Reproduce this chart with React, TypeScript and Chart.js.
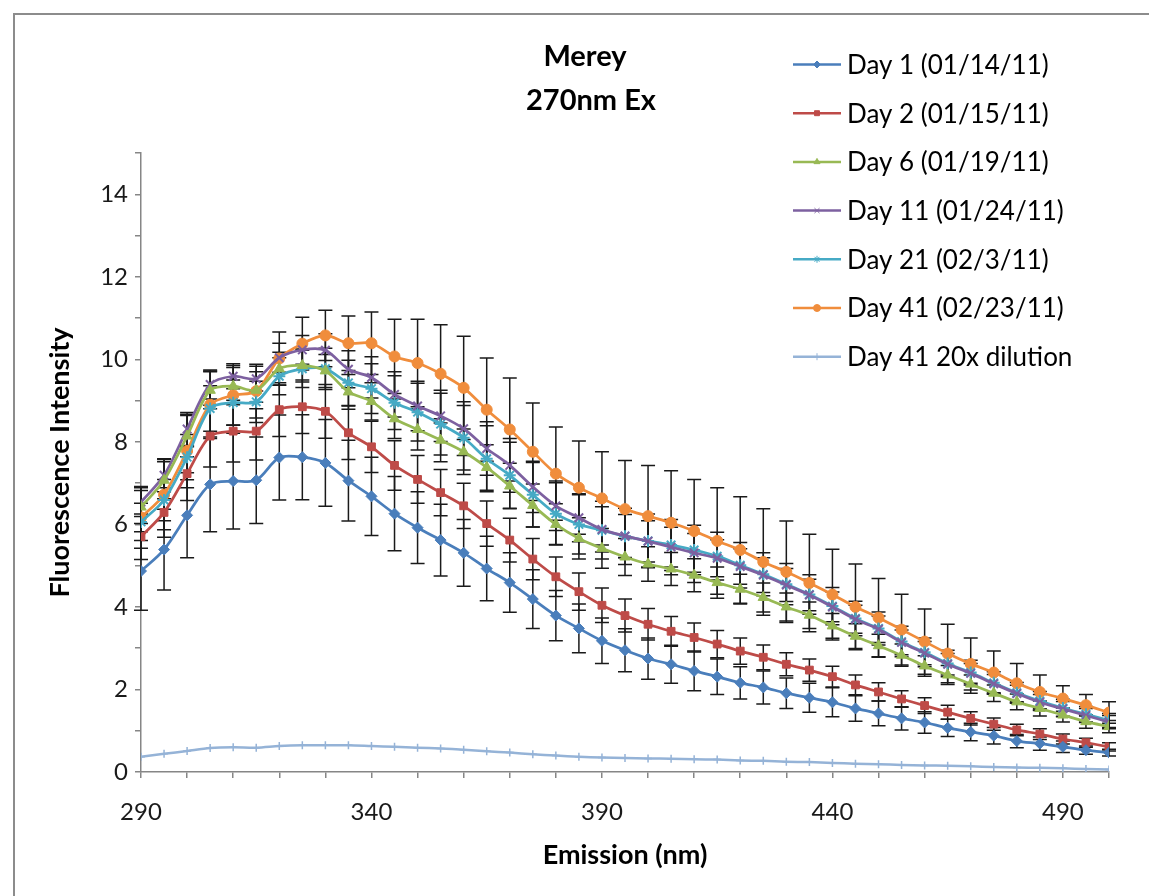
import React, { useEffect, useRef } from 'react';
import { Chart, registerables } from 'chart.js';
import { drawPoint } from 'chart.js/helpers';

Chart.register(...registerables);

const FONT = 'Lato';

const titleLines = ['Merey', '270nm Ex'];
const xTitle = 'Emission (nm)';
const yTitle = 'Fluorescence Intensity';

const wavelengths = [290, 295, 300, 305, 310, 315, 320, 325, 330, 335, 340, 345, 350, 355, 360, 365, 370, 375, 380, 385, 390, 395, 400, 405, 410, 415, 420, 425, 430, 435, 440, 445, 450, 455, 460, 465, 470, 475, 480, 485, 490, 495, 500];

const seriesLabels = ['Day 1 (01/14/11)', 'Day 2 (01/15/11)', 'Day 6 (01/19/11)', 'Day 11 (01/24/11)', 'Day 21 (02/3/11)', 'Day 41 (02/23/11)', 'Day 41 20x dilution'];

const day1 = [4.87, 5.39, 6.22, 6.97, 7.05, 7.07, 7.62, 7.63, 7.49, 7.06, 6.68, 6.26, 5.92, 5.62, 5.31, 4.93, 4.59, 4.19, 3.79, 3.48, 3.18, 2.95, 2.75, 2.61, 2.45, 2.31, 2.16, 2.05, 1.91, 1.80, 1.69, 1.54, 1.42, 1.30, 1.20, 1.07, 0.97, 0.88, 0.75, 0.69, 0.61, 0.53, 0.47];
const day2 = [5.70, 6.29, 7.23, 8.14, 8.26, 8.26, 8.78, 8.85, 8.74, 8.22, 7.88, 7.43, 7.09, 6.77, 6.45, 6.02, 5.62, 5.16, 4.73, 4.37, 4.04, 3.79, 3.58, 3.41, 3.26, 3.10, 2.93, 2.78, 2.61, 2.47, 2.31, 2.11, 1.94, 1.77, 1.61, 1.45, 1.30, 1.16, 1.02, 0.92, 0.80, 0.71, 0.61];
const day6 = [6.42, 7.07, 8.14, 9.25, 9.35, 9.25, 9.77, 9.85, 9.72, 9.21, 8.98, 8.56, 8.30, 8.04, 7.76, 7.38, 6.93, 6.46, 6.00, 5.66, 5.42, 5.21, 5.04, 4.92, 4.77, 4.59, 4.43, 4.23, 4.00, 3.80, 3.54, 3.29, 3.06, 2.83, 2.57, 2.35, 2.13, 1.91, 1.70, 1.54, 1.38, 1.22, 1.10];
const day11 = [6.54, 7.19, 8.31, 9.39, 9.59, 9.53, 10.04, 10.23, 10.22, 9.76, 9.56, 9.15, 8.87, 8.63, 8.32, 7.84, 7.43, 6.91, 6.45, 6.16, 5.88, 5.72, 5.59, 5.45, 5.31, 5.18, 4.98, 4.77, 4.53, 4.29, 4.00, 3.70, 3.46, 3.14, 2.88, 2.61, 2.39, 2.14, 1.90, 1.69, 1.53, 1.37, 1.21];
const day21 = [6.06, 6.59, 7.63, 8.81, 8.95, 8.97, 9.59, 9.77, 9.77, 9.43, 9.29, 8.95, 8.72, 8.43, 8.10, 7.59, 7.19, 6.72, 6.26, 6.00, 5.86, 5.71, 5.60, 5.50, 5.38, 5.23, 5.01, 4.79, 4.55, 4.30, 4.02, 3.72, 3.48, 3.16, 2.90, 2.63, 2.41, 2.16, 1.92, 1.72, 1.55, 1.40, 1.25];
const day41 = [6.17, 6.72, 7.78, 8.90, 9.13, 9.23, 10.02, 10.38, 10.58, 10.39, 10.39, 10.07, 9.91, 9.65, 9.31, 8.78, 8.30, 7.76, 7.23, 6.89, 6.63, 6.37, 6.20, 6.04, 5.84, 5.60, 5.38, 5.09, 4.85, 4.58, 4.30, 4.00, 3.74, 3.45, 3.16, 2.87, 2.62, 2.41, 2.15, 1.94, 1.78, 1.62, 1.44];
const dilution = [0.37, 0.44, 0.51, 0.58, 0.60, 0.59, 0.63, 0.65, 0.65, 0.65, 0.63, 0.61, 0.59, 0.57, 0.54, 0.50, 0.47, 0.43, 0.40, 0.37, 0.35, 0.34, 0.33, 0.32, 0.31, 0.30, 0.28, 0.27, 0.25, 0.24, 0.22, 0.20, 0.19, 0.17, 0.16, 0.15, 0.14, 0.12, 0.11, 0.10, 0.09, 0.07, 0.06];

const err1 = [0.95, 0.98, 1.03, 1.15, 1.16, 1.05, 1.03, 1.03, 1.05, 0.98, 0.95, 0.90, 0.87, 0.87, 0.81, 0.78, 0.72, 0.71, 0.61, 0.59, 0.55, 0.52, 0.50, 0.46, 0.48, 0.43, 0.39, 0.40, 0.37, 0.35, 0.35, 0.31, 0.30, 0.28, 0.26, 0.21, 0.21, 0.20, 0.16, 0.16, 0.14, 0.10, 0.08];
const err2 = [0.55, 0.60, 0.65, 0.75, 0.75, 0.70, 0.65, 0.65, 0.65, 0.65, 0.62, 0.60, 0.58, 0.56, 0.55, 0.55, 0.53, 0.50, 0.48, 0.45, 0.42, 0.40, 0.38, 0.36, 0.35, 0.33, 0.32, 0.30, 0.28, 0.27, 0.25, 0.24, 0.22, 0.20, 0.19, 0.17, 0.16, 0.15, 0.14, 0.13, 0.12, 0.11, 0.10];
const err6 = [0.40, 0.45, 0.50, 0.45, 0.45, 0.45, 0.40, 0.40, 0.40, 0.42, 0.45, 0.48, 0.50, 0.52, 0.55, 0.55, 0.55, 0.52, 0.50, 0.50, 0.48, 0.45, 0.42, 0.40, 0.40, 0.38, 0.36, 0.35, 0.34, 0.32, 0.30, 0.30, 0.28, 0.27, 0.25, 0.23, 0.22, 0.20, 0.19, 0.18, 0.17, 0.16, 0.15];
const err11 = [0.35, 0.40, 0.40, 0.35, 0.30, 0.30, 0.35, 0.35, 0.40, 0.45, 0.50, 0.55, 0.60, 0.62, 0.65, 0.65, 0.65, 0.62, 0.60, 0.58, 0.55, 0.52, 0.50, 0.48, 0.47, 0.45, 0.43, 0.42, 0.40, 0.38, 0.36, 0.34, 0.32, 0.30, 0.28, 0.26, 0.24, 0.22, 0.20, 0.19, 0.18, 0.17, 0.16];
const err21 = [0.45, 0.50, 0.55, 0.55, 0.55, 0.50, 0.45, 0.45, 0.50, 0.55, 0.60, 0.65, 0.70, 0.75, 0.78, 0.80, 0.80, 0.78, 0.75, 0.72, 0.70, 0.68, 0.65, 0.62, 0.60, 0.58, 0.55, 0.52, 0.50, 0.48, 0.45, 0.42, 0.40, 0.37, 0.35, 0.32, 0.30, 0.27, 0.25, 0.23, 0.21, 0.19, 0.17];
const err41 = [0.75, 0.85, 0.89, 0.82, 0.72, 0.65, 0.64, 0.64, 0.61, 0.66, 0.76, 0.90, 1.06, 1.19, 1.25, 1.25, 1.25, 1.18, 1.13, 1.13, 1.13, 1.18, 1.23, 1.26, 1.25, 1.29, 1.29, 1.29, 1.23, 1.18, 1.10, 1.04, 0.95, 0.86, 0.79, 0.71, 0.63, 0.52, 0.48, 0.41, 0.31, 0.26, 0.26];

const xTickLabels = [290, 340, 390, 440, 490];

const seriesValues = [day1, day2, day6, day11, day21, day41, dilution];
const seriesErrors = [err1, err2, err6, err11, err21, err41, null];
const colors = ['#4a7ebb', '#be4b48', '#98b954', '#7d60a0', '#46aac5', '#f08d3c', '#95b3d7'];
const pointStyles = ['rectRot', 'rect', 'triangle', 'crossRot', 'star', 'circle', 'cross'];
const pointRadii = [5.5, 5.5, 6, 6, 6, 5.5, 4];
const pointBorders = [1, 1, 1, 2, 2, 1, 1.5];

const errorBarPlugin = {
  id: 'errorBars',
  beforeDatasetsDraw(chart: any) {
    const ctx = chart.ctx;
    const yScale = chart.scales.y;
    ctx.save();
    ctx.strokeStyle = '#1a1a1a';
    ctx.lineWidth = 1.5;
    chart.data.datasets.forEach((ds: any, i: number) => {
      if (!ds.errors) return;
      const meta = chart.getDatasetMeta(i);
      meta.data.forEach((el: any, j: number) => {
        const v = ds.data[j].y;
        const e = ds.errors[j];
        const yt = yScale.getPixelForValue(v + e);
        const yb = yScale.getPixelForValue(v - e);
        const x = el.x;
        ctx.beginPath();
        ctx.moveTo(x, yt);
        ctx.lineTo(x, yb);
        ctx.moveTo(x - 7, yt);
        ctx.lineTo(x + 7, yt);
        ctx.moveTo(x - 7, yb);
        ctx.lineTo(x + 7, yb);
        ctx.stroke();
      });
    });
    ctx.restore();
  },
};

const decorPlugin = {
  id: 'decor',
  afterDraw(chart: any) {
    const ctx = chart.ctx;
    ctx.save();
    ctx.fillStyle = '#000';
    ctx.textAlign = 'center';
    ctx.textBaseline = 'middle';
    ctx.font = `bold 29px ${FONT}`;
    ctx.fillText(titleLines[0], 585, 57);
    ctx.fillText(titleLines[1], 591, 101);

    // legend
    chart.data.datasets.forEach((ds: any, i: number) => {
      const y = 64.5 + i * 48.7;
      ctx.strokeStyle = ds.borderColor;
      ctx.lineWidth = 2.5;
      ctx.beginPath();
      ctx.moveTo(793, y);
      ctx.lineTo(841, y);
      ctx.stroke();
      ctx.fillStyle = ds.borderColor;
      ctx.lineWidth = 1;
      drawPoint(ctx, { pointStyle: ds.pointStyle, radius: 3.5, borderWidth: 1, rotation: 0 }, 817, y);
      ctx.fillStyle = '#000';
      ctx.textAlign = 'left';
      ctx.font = `26px ${FONT}`;
      ctx.fillText(ds.label, 847, y + 1);
    });
    ctx.restore();
  },
};

export default function App() {
  const ref = useRef<HTMLCanvasElement>(null);
  useEffect(() => {
    const canvas = ref.current;
    if (!canvas) return;
    const datasets = seriesLabels.map((label, i) => ({
      label,
      data: wavelengths.map((w, j) => ({ x: w, y: seriesValues[i][j] })),
      errors: seriesErrors[i],
      borderColor: colors[i],
      backgroundColor: colors[i],
      pointBackgroundColor: colors[i],
      pointBorderColor: colors[i],
      pointStyle: pointStyles[i],
      pointRadius: pointRadii[i],
      pointBorderWidth: pointBorders[i],
      borderWidth: i === 6 ? 2.5 : 2.75,
      tension: 0.3,
      fill: false,
    }));
    const chart = new Chart(canvas, {
      type: 'line',
      data: { datasets } as any,
      plugins: [errorBarPlugin, decorPlugin],
      options: {
        animation: false,
        responsive: false,
        devicePixelRatio: 1,
        layout: { padding: { left: 0, right: 40, top: 153, bottom: 0 } },
        plugins: { legend: { display: false }, title: { display: false }, tooltip: { enabled: false } },
        scales: {
          x: {
            type: 'linear',
            min: 290,
            max: 500,
            afterFit: (s: any) => { s.height = 124; },
            ticks: {
              stepSize: 10,
              autoSkip: false,
              maxRotation: 0,
              padding: 20,
              color: '#1a1a1a',
              font: { family: FONT, size: 24 },
              callback: (v: any) => (xTickLabels.includes(Number(v)) ? String(v) : ''),
            },
            grid: { drawOnChartArea: false, drawTicks: true, tickLength: 6, color: '#868686', lineWidth: 1.5 },
            border: { color: '#868686', width: 1.5 },
            title: { display: true, text: xTitle, color: '#000', font: { family: FONT, size: 27, weight: 'bold' }, padding: { top: 0, bottom: 25 } },
          },
          y: {
            min: 0,
            max: 15,
            afterFit: (s: any) => { s.width = 141; },
            ticks: {
              stepSize: 1,
              padding: 7,
              color: '#1a1a1a',
              font: { family: FONT, size: 24 },
              callback: (v: any) => (Number(v) % 2 === 0 ? String(v) : ''),
            },
            grid: { drawOnChartArea: false, drawTicks: true, tickLength: 6, color: '#868686', lineWidth: 1.5 },
            border: { color: '#868686', width: 1.5 },
            title: { display: true, text: yTitle, color: '#000', font: { family: FONT, size: 27, weight: 'bold' }, padding: { top: 44, bottom: 0 } },
          },
        },
      } as any,
    });
    return () => chart.destroy();
  }, []);
  return (
    <div style={{ position: 'fixed', left: 0, top: 0, width: 1149, height: 896, overflow: 'hidden', background: '#fff' }}>
      <div style={{ position: 'absolute', left: 13, top: 13, width: 1200, height: 1000, border: '2px solid #8c8c8c', boxSizing: 'border-box' }} />
      <canvas ref={ref} width={1149} height={896} style={{ position: 'absolute', left: 0, top: 0, width: 1149, height: 896 }} />
    </div>
  );
}
